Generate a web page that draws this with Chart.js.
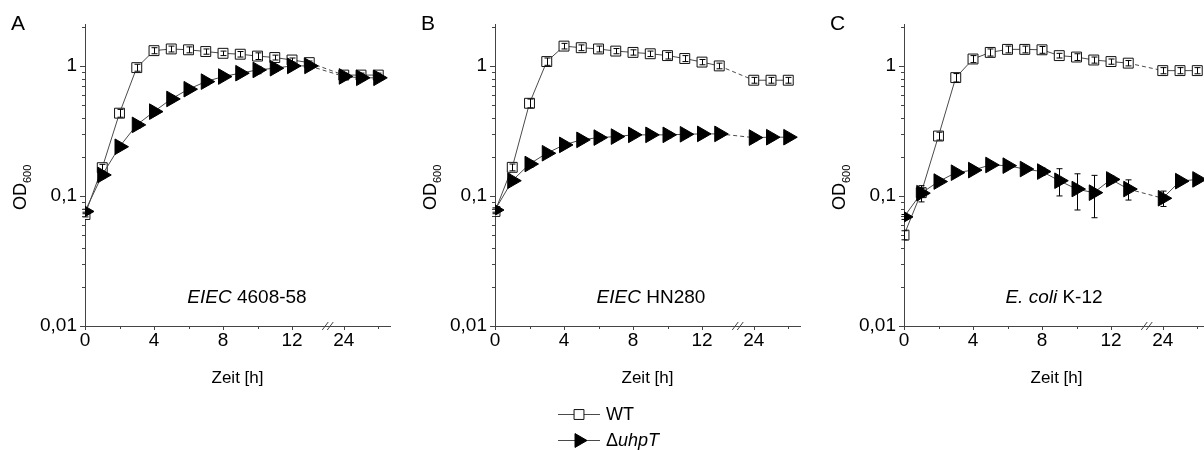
<!DOCTYPE html>
<html>
<head>
<meta charset="utf-8">
<script src="https://cdn.jsdelivr.net/npm/chart.js@4.4.1/dist/chart.umd.min.js"></script>
<style>
  html, body { margin: 0; padding: 0; background: #fff; overflow: hidden; width: 1204px; height: 450px; }
  .panel { position: absolute; top: 0; width: 410px; height: 450px; }
</style>
</head>
<body>
<div class="panel" style="left:0px"><canvas id="panelA" width="410" height="450"></canvas></div>
<div class="panel" style="left:410px"><canvas id="panelB" width="410" height="450"></canvas></div>
<div class="panel" style="left:819px"><canvas id="panelC" width="410" height="450"></canvas></div>
<script>
/* Wachstumskurven OD600 – drei Panels (A, B, C), log-y, x-Achse mit Bruch 13 -> 24 h */

const ZEITEN = [0, 1, 2, 3, 4, 5, 6, 7, 8, 9, 10, 11, 12, 13, 24, 25, 26];
const X_HAUPT = [0, 4, 8, 12, 24];
const X_NEBEN = [2, 6, 10, 26];
const Y_HAUPT = [0.01, 0.1, 1];

// Panel A – EIEC 4608-58
const A_WT = [0.072, 0.165, 0.433, 0.97, 1.31, 1.35, 1.33, 1.29, 1.25, 1.23, 1.19, 1.16, 1.11, 1.06, 0.85, 0.85, 0.85];
const A_WT_FEHLER = [0.003, 0.01, 0.03, 0.06, 0.07, 0.07, 0.07, 0.06, 0.05, 0.06, 0.07, 0.05, 0.04, 0.03, 0.03, 0.03, 0.03];
const A_UHPT = [0.076, 0.145, 0.239, 0.352, 0.445, 0.557, 0.662, 0.757, 0.828, 0.879, 0.931, 0.96, 1.0, 1.0, 0.83, 0.81, 0.81];
const A_UHPT_FEHLER = [0.003, 0.008, 0.01, 0.02, 0.02, 0.03, 0.03, 0.04, 0.04, 0.05, 0.06, 0.05, 0.05, 0.04, 0.04, 0.04, 0.04];

// Panel B – EIEC HN280
const B_WT = [0.076, 0.166, 0.516, 1.08, 1.42, 1.38, 1.35, 1.30, 1.27, 1.24, 1.20, 1.14, 1.07, 1.0, 0.776, 0.776, 0.776];
const B_WT_FEHLER = [0.003, 0.01, 0.04, 0.07, 0.07, 0.07, 0.07, 0.06, 0.06, 0.06, 0.07, 0.06, 0.05, 0.05, 0.04, 0.04, 0.04];
const B_UHPT = [0.078, 0.131, 0.176, 0.213, 0.247, 0.27, 0.281, 0.286, 0.295, 0.295, 0.295, 0.298, 0.30, 0.30, 0.281, 0.283, 0.283];
const B_UHPT_FEHLER = [0.003, 0.006, 0.01, 0.01, 0.012, 0.015, 0.015, 0.015, 0.015, 0.015, 0.015, 0.015, 0.015, 0.015, 0.015, 0.015, 0.015];

// Panel C – E. coli K-12
const C_WT = [0.05, 0.106, 0.289, 0.813, 1.13, 1.27, 1.34, 1.34, 1.33, 1.20, 1.17, 1.11, 1.08, 1.05, 0.92, 0.92, 0.92];
const C_WT_FEHLER = [0.004, 0.008, 0.02, 0.06, 0.07, 0.08, 0.08, 0.08, 0.08, 0.05, 0.07, 0.06, 0.05, 0.05, 0.05, 0.05, 0.05];
const C_UHPT = [0.069, 0.105, 0.129, 0.151, 0.158, 0.173, 0.171, 0.161, 0.154, 0.131, 0.113, 0.106, 0.134, 0.113, 0.096, 0.130, 0.134];
const C_UHPT_FEHLER = [0.003, 0.015, 0.006, 0.005, 0.006, 0.005, 0.006, 0.006, 0.01, 0.031, 0.035, 0.038, 0.008, 0.02, 0.013, 0.004, 0.004];

(function () {
  'use strict';

  const SCHRIFT = "'Liberation Sans', Arial, sans-serif";
  const SCHWARZ = '#000000';
  const ACHSE = '#444444';
  const LINIE = '#4a4a4a';
  const BRUCH = 13;       // letzte Stunde vor dem Achsenbruch
  const SPRUNG = 9;       // 24 h liegt auf Position 15
  const BRUCH_POS = 14.1;
  const X_MAX = 17.68;
  const Y_MAX = 2.1;

  function pos(t) { return t > BRUCH ? t - SPRUNG : t; }
  function punkte(werte) { return werte.map(function (v, i) { return { x: pos(ZEITEN[i]), y: v }; }); }

  function textTeile(ctx, teile, cx, y, groesse) {
    let breite = 0;
    teile.forEach(function (p) {
      ctx.font = (p.kursiv ? 'italic ' : '') + groesse + 'px ' + SCHRIFT;
      p.b = ctx.measureText(p.t).width; breite += p.b;
    });
    let x = cx - breite / 2;
    teile.forEach(function (p) {
      ctx.font = (p.kursiv ? 'italic ' : '') + groesse + 'px ' + SCHRIFT;
      ctx.fillText(p.t, x, y); x += p.b;
    });
  }

  const fehlerbalken = {
    id: 'fehlerbalken',
    afterDatasetsDraw: function (chart) {
      const ctx = chart.ctx, ys = chart.scales.y;
      ctx.save();
      ctx.strokeStyle = SCHWARZ; ctx.lineWidth = 1;
      chart.data.datasets.forEach(function (ds, i) {
        if (!ds.fehler) return;
        chart.getDatasetMeta(i).data.forEach(function (pt, j) {
          const v = ds.data[j].y, e = ds.fehler[j];
          const px = Math.round(pt.x) + 0.5;
          const oben = ys.getPixelForValue(v + e);
          const unten = ys.getPixelForValue(Math.max(v - e, 0.001));
          ctx.beginPath();
          ctx.moveTo(px, oben); ctx.lineTo(px, unten);
          ctx.moveTo(px - 3, oben); ctx.lineTo(px + 3, oben);
          ctx.moveTo(px - 3, unten); ctx.lineTo(px + 3, unten);
          ctx.stroke();
        });
      });
      ctx.restore();
    }
  };

  const deko = {
    id: 'deko',
    afterDraw: function (chart, args, opts) {
      const ctx = chart.ctx, a = chart.chartArea, xs = chart.scales.x, ys = chart.scales.y;
      ctx.save();
      ctx.strokeStyle = ACHSE; ctx.lineWidth = 1;
      ctx.beginPath();
      Y_HAUPT.forEach(function (v) {
        const py = Math.round(ys.getPixelForValue(v)) + 0.5;
        ctx.moveTo(a.left - 5, py); ctx.lineTo(a.left, py);
      });
      [0.01, 0.1, 1].forEach(function (dek) {
        for (let k = 2; k <= 9; k++) {
          const v = k * dek;
          if (v > Y_MAX) break;
          const py = Math.round(ys.getPixelForValue(v)) + 0.5;
          ctx.moveTo(a.left - 3, py); ctx.lineTo(a.left, py);
        }
      });
      X_HAUPT.forEach(function (t) {
        const px = Math.round(xs.getPixelForValue(pos(t))) + 0.5;
        ctx.moveTo(px, a.bottom); ctx.lineTo(px, a.bottom + 4);
      });
      X_NEBEN.forEach(function (t) {
        const px = Math.round(xs.getPixelForValue(pos(t))) + 0.5;
        ctx.moveTo(px, a.bottom); ctx.lineTo(px, a.bottom + 3);
      });
      ctx.stroke();

      // Achsenbruch //
      const bx = xs.getPixelForValue(BRUCH_POS);
      ctx.beginPath();
      [-3, 2].forEach(function (d) {
        ctx.moveTo(bx + d - 3, a.bottom + 4); ctx.lineTo(bx + d + 3, a.bottom - 4);
      });
      ctx.stroke();

      // Buchstabe, OD600, Stamm
      ctx.fillStyle = SCHWARZ;
      ctx.textBaseline = 'alphabetic';
      ctx.textAlign = 'left';
      ctx.font = '21px ' + SCHRIFT;
      ctx.fillText(opts.buchstabe, 11, 30);

      ctx.save();
      ctx.translate(26, 210);
      ctx.rotate(-Math.PI / 2);
      ctx.font = '18px ' + SCHRIFT;
      ctx.fillText('OD', 0, 0);
      const w = ctx.measureText('OD').width;
      ctx.font = '11px ' + SCHRIFT;
      ctx.fillText('600', w, 5);
      ctx.restore();

      textTeile(ctx, opts.stamm, opts.stammX, 303, 19);

      if (opts.legende) {
        chart.data.datasets.slice().reverse().forEach(function (ds, i) {
          const ly = 414 + i * 26;
          ctx.strokeStyle = LINIE; ctx.lineWidth = 1;
          ctx.beginPath(); ctx.moveTo(148, ly + 0.5); ctx.lineTo(190, ly + 0.5); ctx.stroke();
          ctx.fillStyle = ds.pointBackgroundColor; ctx.strokeStyle = ds.pointBorderColor;
          Chart.helpers.drawPoint(ctx, {
            pointStyle: ds.pointStyle, rotation: ds.pointRotation || 0,
            radius: ds.pointStyle === 'rect' ? 7 : 8, borderWidth: 1
          }, 169, ly + 0.5);
          ctx.fillStyle = SCHWARZ;
          ctx.textBaseline = 'middle';
          ctx.textAlign = 'left';
          let x = 196;
          ds.legende.forEach(function (p) {
            ctx.font = (p.kursiv ? 'italic ' : '') + '18px ' + SCHRIFT;
            ctx.fillText(p.t, x, ly + 1);
            x += ctx.measureText(p.t).width;
          });
        });
      }
      ctx.restore();
    }
  };

  function panel(id, wt, wtFehler, uhpt, uhptFehler, buchstabe, stamm, stammX, legende) {
    const bruchStrich = function (c) {
      return c.p0.parsed.x === BRUCH && c.p1.parsed.x === pos(24) ? [4, 3] : undefined;
    };
    return new Chart(document.getElementById(id), {
      type: 'line',
      data: {
        datasets: [
          {
            label: 'ΔuhpT', legende: [{ t: 'Δ', kursiv: false }, { t: 'uhpT', kursiv: true }],
            data: punkte(uhpt), fehler: uhptFehler, order: 0,
            borderColor: LINIE, borderWidth: 1, tension: 0, fill: false,
            pointStyle: 'triangle', pointRotation: 90, pointRadius: 9,
            pointBackgroundColor: SCHWARZ, pointBorderColor: SCHWARZ, pointBorderWidth: 1,
            segment: { borderDash: bruchStrich }
          },
          {
            label: 'WT', legende: [{ t: 'WT', kursiv: false }],
            data: punkte(wt), fehler: wtFehler, order: 1,
            borderColor: LINIE, borderWidth: 1, tension: 0, fill: false,
            pointStyle: 'rect', pointRadius: 7,
            pointBackgroundColor: '#FFFFFF', pointBorderColor: '#111111', pointBorderWidth: 1,
            segment: { borderDash: bruchStrich }
          }
        ]
      },
      options: {
        responsive: false, animation: false, events: [],
        layout: { padding: { top: 24, right: 20, bottom: 0, left: 0 } },
        plugins: {
          legend: { display: false }, tooltip: { enabled: false },
          deko: { buchstabe: buchstabe, stamm: stamm, stammX: stammX, legende: legende }
        },
        scales: {
          x: {
            type: 'linear', min: 0, max: X_MAX,
            afterBuildTicks: function (s) { s.ticks = X_HAUPT.map(function (t) { return { value: pos(t) }; }); },
            afterFit: function (s) { s.height = 124; },
            ticks: {
              autoSkip: false, padding: 3, color: SCHWARZ, font: { family: SCHRIFT, size: 19 },
              callback: function (v, i) { return String(X_HAUPT[i]); }
            },
            grid: { display: false, drawTicks: false },
            border: { display: true, color: ACHSE, width: 1 },
            title: {
              display: true, text: 'Zeit [h]', color: SCHWARZ,
              font: { family: SCHRIFT, size: 17 }, padding: { top: 0, bottom: 61 }
            }
          },
          y: {
            type: 'logarithmic', min: 0.01, max: Y_MAX,
            afterBuildTicks: function (s) { s.ticks = Y_HAUPT.map(function (v) { return { value: v }; }); },
            afterFit: function (s) { s.width = 85; },
            ticks: {
              autoSkip: false, padding: 8, color: SCHWARZ, font: { family: SCHRIFT, size: 19 },
              callback: function (v) { return String(v).replace('.', ','); }
            },
            grid: { display: false, drawTicks: false },
            border: { display: true, color: ACHSE, width: 1 }
          }
        }
      },
      plugins: [fehlerbalken, deko]
    });
  }

  panel('panelA', A_WT, A_WT_FEHLER, A_UHPT, A_UHPT_FEHLER, 'A',
    [{ t: 'EIEC', kursiv: true }, { t: ' 4608-58', kursiv: false }], 247, false);
  panel('panelB', B_WT, B_WT_FEHLER, B_UHPT, B_UHPT_FEHLER, 'B',
    [{ t: 'EIEC', kursiv: true }, { t: ' HN280', kursiv: false }], 241, true);
  panel('panelC', C_WT, C_WT_FEHLER, C_UHPT, C_UHPT_FEHLER, 'C',
    [{ t: 'E. coli', kursiv: true }, { t: ' K-12', kursiv: false }], 235, false);
})();
</script>
</body>
</html>
